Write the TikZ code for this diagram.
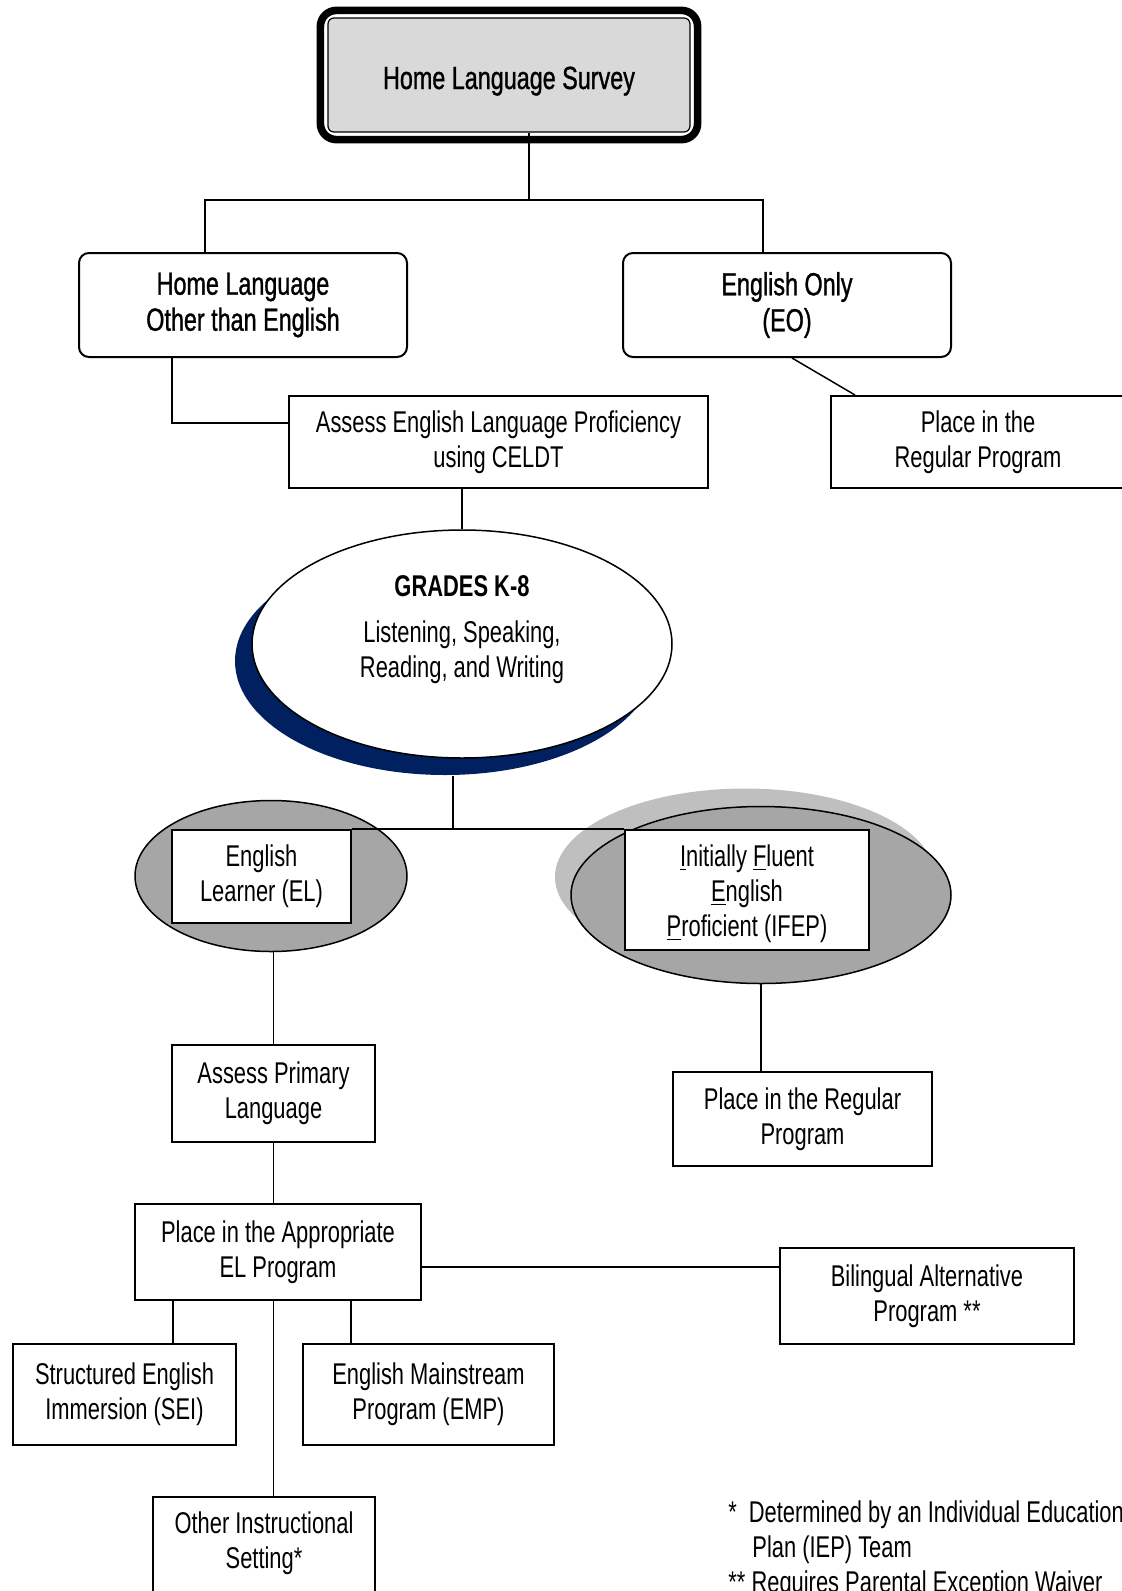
\documentclass[tikz,border=0pt]{standalone}
\usepackage{fontspec}
\setmainfont{Liberation Sans}[FakeStretch=0.73]
\newfontfamily\headfont{Liberation Sans}[FakeStretch=0.73,FakeBold=1]
\usetikzlibrary{shapes.geometric,positioning}

\definecolor{surveygray}{HTML}{D9D9D9}
\definecolor{ringgray}{HTML}{A6A6A6}
\definecolor{lightshade}{HTML}{BFBFBF}
\definecolor{navyshade}{HTML}{002060}

\tikzset{
  box/.style={draw,line width=1pt,fill=white,align=center,inner sep=0pt,font=\fontsize{15pt}{17.5pt}\selectfont},
  rbox/.style={box,rounded corners=5pt,font=\headfont\fontsize{16pt}{18pt}\selectfont},
  oval/.style={ellipse,draw,line width=0.75pt,inner sep=0pt},
  link/.style={line width=0.75pt},
  words/.style={align=center,inner sep=0pt,font=\fontsize{15pt}{17.5pt}\selectfont}
}

\begin{document}
\begin{tikzpicture}[x=0.5pt,y=-0.5pt]
\path[use as bounding box,clip] (0,0) rectangle (1122,1591);

% survey at the top
\node[box,rounded corners=3pt,fill=surveygray,line width=0.6pt,minimum width=181pt,minimum height=57pt,text height=14pt,text depth=0pt,font=\headfont\fontsize{16pt}{18pt}\selectfont] (survey) at (509,75) {Home Language Survey};
\draw[line width=3.8pt,rounded corners=8pt] ([shift={(-7,-7)}]survey.north west) rectangle ([shift={(7,7)}]survey.south east);

\node[rbox,minimum width=164pt,minimum height=52pt] (homelang) at (243,305) {Home Language\\Other than English};
\node[rbox,minimum width=164pt,minimum height=52pt] (englishonly) at (787,305) {English Only\\(EO)};
\coordinate (split) at (529,200);
\draw[link] (survey.south -| split) -- (split);
\draw[link] ([xshift=-19pt]homelang.north) |- (split) -| ([xshift=-12pt]englishonly.north);

\node[box,minimum width=209.5pt,minimum height=46pt] (celdt) at (498.5,442) {Assess English Language Proficiency\\using CELDT};
\node[box,minimum width=147pt,minimum height=46pt] (regular) at (978,442) {Place in the\\Regular Program};
\draw[link] ([xshift=-35.5pt]homelang.south) |- ([yshift=9.5pt]celdt.west);
\draw[link] ([xshift=2.5pt]englishonly.south) -- ([xshift=-61.5pt]regular.north);

% grades oval with its shadow
\fill[navyshade] (445,661) ellipse [x radius=105pt,y radius=57pt];
\node[oval,fill=white,minimum width=210pt,minimum height=114pt] (grades) at (462,644) {};
\node[words] (gradestext) at (462,630) {{\bfseries GRADES K-8}\\[5.5pt]Listening, Speaking,\\Reading, and Writing};
\draw[link] (celdt.south -| grades.north) -- (grades.north);

\coordinate (gradesfoot) at (453,776);
\coordinate (fork) at (453,829);
\draw[link] (gradesfoot) -- (fork);

% EL and IFEP
\node[oval,fill=ringgray,minimum width=136pt,minimum height=75.5pt] (elring) at (271,876) {};
\node[box,minimum width=89.5pt,minimum height=46.5pt] (el) at (261.5,876.5) {English\\Learner (EL)};
\fill[lightshade] (745,877) ellipse [x radius=95pt,y radius=44.25pt];
\node[oval,fill=ringgray,minimum width=190pt,minimum height=88.5pt] (ifepring) at (761,895) {};
\node[box,minimum width=122pt,minimum height=60pt] (ifep) at (747,890) {};
\node[words] (ifeptext) at (747,894) {\underline{I}nitially \underline{F}luent\\\underline{E}nglish\\\underline{P}roficient (IFEP)};
\draw[link] (el.north east) -- (ifep.north west);

\node[box,minimum width=101.5pt,minimum height=48.5pt] (primary) at (273.5,1093.5) {Assess Primary\\Language};
\node[box,minimum width=129.5pt,minimum height=47pt] (regular2) at (802.5,1119) {Place in the Regular\\Program};
\draw[link] (primary.north |- elring.south) -- (primary.north);
\draw[link] (ifepring.south) -- (ifepring.south |- regular2.north);

% programs
\node[box,minimum width=143pt,minimum height=48pt] (elprogram) at (278,1252) {Place in the Appropriate\\EL Program};
\node[box,minimum width=147pt,minimum height=48pt] (bilingual) at (927,1296) {Bilingual Alternative\\Program **};
\draw[link] (primary.south) -- (primary.south |- elprogram.north);
\coordinate (biltap) at ([yshift=14.5pt]bilingual.west);
\draw[link] (biltap -| elprogram.east) -- (biltap);

\node[box,minimum width=111.5pt,minimum height=50.5pt] (sei) at (124.5,1394.5) {Structured English\\Immersion (SEI)};
\node[box,minimum width=125.5pt,minimum height=50.5pt] (emp) at (428.5,1394.5) {English Mainstream\\Program (EMP)};
\node[box,minimum width=111pt,minimum height=53pt] (setting) at (264,1550) {};
\node[words] (settingtext) at (264,1543) {Other Instructional\\Setting*};
\draw[link] ([xshift=24.25pt]sei.north) -- ([xshift=24.25pt]sei.north |- elprogram.south);
\draw[link] ([xshift=-38.75pt]emp.north) -- ([xshift=-38.75pt]emp.north |- elprogram.south);
\draw[link] (primary.south |- elprogram.south) -- (primary.south |- setting.north);

% footnotes
\node[words,align=left,anchor=north west] (notes) at (728,1500) {*\hspace{6pt}Determined by an Individual Education\\\hspace*{12pt}Plan (IEP) Team\\** Requires Parental Exception Waiver};
\end{tikzpicture}
\end{document}
